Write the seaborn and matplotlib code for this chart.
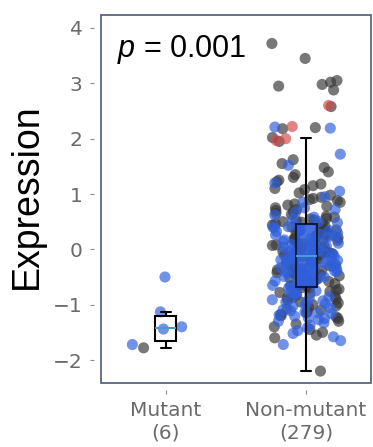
import numpy as np
import pandas as pd
import matplotlib
matplotlib.use("Agg")
import matplotlib.pyplot as plt
import seaborn as sns
from matplotlib.patches import Rectangle

# ---------------- data ----------------
categories = ["Mutant", "Non-mutant"]
tick_labels = ["Mutant\n(6)", "Non-mutant\n(279)"]
status_levels = ["Neutral", "Loss", "Gain"]

mutant_neutral = [-1.78]
mutant_loss = [-1.72, -1.44, -1.40, -1.13, -0.50]
mutant_gain = []

nonmut_neutral = [
    # outliers
    3.72, 3.45, 3.05, 3.02, 2.98, 2.95, 2.88, 2.58, 2.18, 2.20,
    # upper whisker region
    2.02, 1.95, 1.62, 1.55, 1.48, 1.40, 1.35, 1.30, 1.25, 1.22,
    1.18, 1.15, 1.10, 1.08, 1.02, 0.98, 0.94, 0.92, 0.90, 0.88,
    0.85, 0.82, 0.80, 0.78, 0.75, 0.72, 0.70, 0.68, 0.65, 0.63,
    0.60, 0.58, 0.56, 0.55, 0.53, 0.52, 0.50, 0.49, 0.47, 0.46,
    # median .. Q3
    0.44, 0.42, 0.40, 0.38, 0.37, 0.35, 0.33, 0.31, 0.30, 0.28,
    0.26, 0.25, 0.23, 0.21, 0.20, 0.18, 0.16, 0.15, 0.13, 0.12,
    0.10, 0.08, 0.07, 0.05, 0.04, 0.02, 0.01, -0.01, -0.02, -0.04,
    -0.05, -0.06, -0.07, -0.08, -0.09, -0.10, -0.11, 0.36, 0.19,
    # Q1 .. median
    -0.13, -0.15, -0.17, -0.20, -0.22, -0.25, -0.27, -0.30, -0.32, -0.35,
    -0.37, -0.40, -0.42, -0.44, -0.46, -0.48, -0.50, -0.52, -0.54, -0.56,
    -0.58, -0.60, -0.62, -0.64, -0.66, -0.67, -0.28, -0.38, -0.45, -0.55,
    -0.18,
    # below Q1
    -0.69, -0.70, -0.72, -0.74, -0.76, -0.78, -0.80, -0.82, -0.85, -0.87,
    -0.90, -0.92, -0.95, -0.97, -1.00, -1.02, -1.05, -1.08, -1.10, -1.12,
    -1.15, -1.18, -1.20, -1.22, -1.25, -1.30, -1.35, -1.40, -1.45, -1.50,
    -1.55, -1.60, -0.88, -2.20,
]
nonmut_loss = [
    2.21, 2.19,
    1.72, 1.52, 1.20, 1.05, 0.95, 0.85, 0.75, 0.72, 0.68, 0.62,
    0.58, 0.55, 0.50, 0.48,
    0.43, 0.41, 0.39, 0.34, 0.32, 0.29, 0.27, 0.24, 0.22, 0.17,
    0.14, 0.11, 0.09, 0.06, 0.03, 0.00, -0.03, -0.05, -0.06, -0.08,
    -0.10, -0.11, 0.40, 0.35, 0.26, 0.20, 0.12, 0.05, -0.02, -0.09,
    -0.12,
    -0.13, -0.14, -0.16, -0.19, -0.21, -0.23, -0.24, -0.26, -0.29, -0.31,
    -0.33, -0.34, -0.36, -0.39, -0.41, -0.43, -0.45, -0.47, -0.49, -0.51,
    -0.53, -0.55, -0.57, -0.59, -0.61, -0.63, -0.65, -0.66, -0.20, -0.30,
    -0.40, -0.50, -0.60, -0.35, -0.25, -0.15, -0.58, -0.44,
    -0.70, -0.73, -0.75, -0.77, -0.79, -0.81, -0.83, -0.86, -0.89, -0.91,
    -0.93, -0.96, -0.98, -1.01, -1.03, -1.06, -1.09, -1.11, -1.13, -1.16,
    -1.19, -1.21, -1.24, -1.27, -1.30, -1.33, -1.37, -1.42, -1.47, -1.52,
    -1.58, -1.65, -1.72, -0.95, -1.15, -1.25,
]
nonmut_gain = [2.60, 2.22, 2.00, 1.97]

p_text = r"$p$ = 0.001"
y_ticks = [-2, -1, 0, 1, 2, 3, 4]

# ---------------- build table ----------------
rows = []
for grp, lists in [("Mutant", (mutant_neutral, mutant_loss, mutant_gain)),
                   ("Non-mutant", (nonmut_neutral, nonmut_loss, nonmut_gain))]:
    for lev, vals in zip(status_levels, lists):
        for v in vals:
            rows.append((grp, lev, v))
df = pd.DataFrame(rows, columns=["group", "status", "value"])

# ---------------- style ----------------
sns.set_style("white")
plt.rcParams["font.family"] = ["DejaVu Sans"]
plt.rcParams["mathtext.fontset"] = "custom"
plt.rcParams["mathtext.it"] = "Liberation Sans:italic"
plt.rcParams["mathtext.rm"] = "Liberation Sans"

W, H = 373, 447
fig = plt.figure(figsize=(W / 100, H / 100), dpi=100)
ax_l, ax_r, ax_t, ax_b = 94, 372, 14, 390
ax = fig.add_axes([ax_l / W, 1 - ax_b / H, (ax_r - ax_l) / W, (ax_b - ax_t) / H])

GRAY = "#383838"
BLUE = "#2f5fdc"
RED = "#d44a4a"
palette = {"Neutral": GRAY, "Loss": BLUE, "Gain": RED}

np.random.seed(11)
sns.stripplot(data=df, x="group", y="value", hue="status", order=categories,
              hue_order=status_levels, palette=palette, jitter=0.25, size=8,
              alpha=0.68, linewidth=0, legend=False, ax=ax, zorder=1)

sns.boxplot(data=df, x="group", y="value", hue="group", order=categories,
            hue_order=categories, palette={"Mutant": "white", "Non-mutant": BLUE},
            saturation=1, width=0.15, showfliers=False, linecolor="black",
            linewidth=1.5, legend=False, ax=ax,
            medianprops={"color": "#4a9ad0", "linewidth": 1.5})

for patch in ax.patches:
    fc = patch.get_facecolor()
    if fc[0] > 0.9 and fc[1] > 0.9 and fc[2] > 0.9:
        patch.set_facecolor((1, 1, 1, 0))
    else:
        patch.set_alpha(None)
        patch.set_facecolor(matplotlib.colors.to_rgba(BLUE, 0.88))
        patch.set_edgecolor("#0c1a48")
    patch.set_zorder(3)
for line in ax.lines:
    line.set_zorder(4)

# axes limits / ticks
ax.set_xlim(-0.514, 1.471)
ax.set_ylim(-2.542, 4.253)
ax.set_yticks(y_ticks)
ax.set_xticks(range(len(categories)))
ax.set_xticklabels(tick_labels)
ax.tick_params(axis="both", which="both", direction="out", length=3.2, width=0.8,
               color="#8a8a8a", labelcolor="#6a6a6a", labelsize=14.5, pad=5,
               bottom=True, left=True)
ax.set_xlabel("")
ax.set_ylabel("Expression", fontsize=27, family="Liberation Sans", color="black")
ax.yaxis.set_label_coords(-0.177, 0.516)
for s in ax.spines.values():
    s.set_visible(False)

# frame, inset from the tick side
fx0 = (101 - ax_l) / (ax_r - ax_l)
fy0 = (ax_b - 383) / (ax_b - ax_t)
fx1 = (371 - ax_l) / (ax_r - ax_l)
fy1 = (ax_b - 14.7) / (ax_b - ax_t)
ax.add_patch(Rectangle((fx0, fy0), fx1 - fx0, fy1 - fy0, transform=ax.transAxes,
                       fill=False, edgecolor="#4b5a7c", linewidth=1.2,
                       clip_on=False, zorder=10))

ax.text((117 - ax_l) / (ax_r - ax_l), (ax_b - 57) / (ax_b - ax_t), p_text,
        transform=ax.transAxes, fontsize=22, family="Liberation Sans",
        ha="left", va="baseline", color="black")

fig.savefig("out.png", dpi=100)
